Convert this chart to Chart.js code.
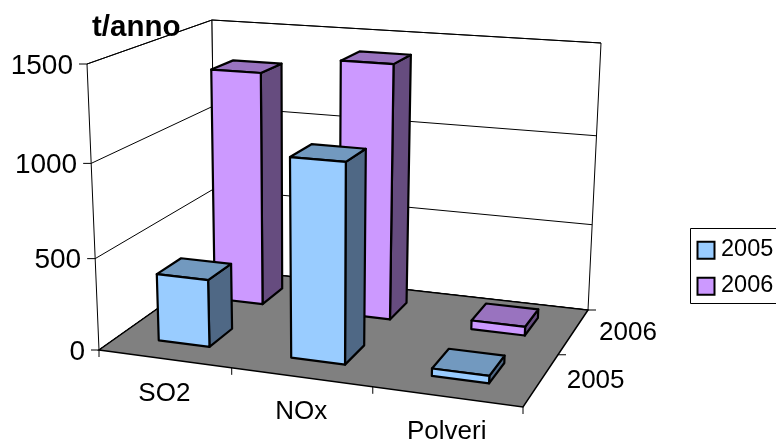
<!DOCTYPE html>
<html>
<head>
<meta charset="utf-8">
<style>
  html, body { margin: 0; padding: 0; background: #fff; overflow: hidden; }
  canvas { display: block; }
</style>
<script src="https://cdn.jsdelivr.net/npm/chart.js@4/dist/chart.umd.min.js"></script>
</head>
<body>
<canvas id="grafico" width="776" height="442"></canvas>
<script>
const categorie = ['SO2', 'NOx', 'Polveri']
const anni = ['2005', '2006']
const valori2005 = [370, 1060, 40]
const valori2006 = [1320, 1415, 50]
const titolo = 't/anno'

const FONT = '"Liberation Sans", Arial, sans-serif'

// Angoli del box 3D: pavimento e piano a quota massima (fl, fr, br, bl)
const pavimento = [[99, 350], [523, 407], [588, 310], [215, 268]]
const soffitto = [[87, 64], [535, 96], [601, 43], [212, 20]]
const profonditaBarra = 0.10

function omografia(q) {
  const [[x0, y0], [x1, y1], [x2, y2], [x3, y3]] = q
  const dx1 = x1 - x2, dx2 = x3 - x2, sx = x0 - x1 + x2 - x3
  const dy1 = y1 - y2, dy2 = y3 - y2, sy = y0 - y1 + y2 - y3
  const den = dx1 * dy2 - dx2 * dy1
  const g = (sx * dy2 - dx2 * sy) / den
  const h = (dx1 * sy - sx * dy1) / den
  const a = x1 - x0 + g * x1, b = x3 - x0 + h * x3
  const d = y1 - y0 + g * y1, e = y3 - y0 + h * y3
  return (u, v) => {
    const w = g * u + h * v + 1
    return [(a * u + b * v + x0) / w, (d * u + e * v + y0) / w]
  }
}

const basso = omografia(pavimento)
const alto = omografia(soffitto)

// u = categoria, d = profondita, q = quota: tutti tra 0 e 1
function proietta(u, d, q) {
  const s = q / (q + (1 - q) * 1.065)
  const a = basso(u, d), b = alto(u, d)
  return [a[0] + (b[0] - a[0]) * s, a[1] + (b[1] - a[1]) * s]
}

function poligono(c, punti, fill) {
  c.beginPath()
  punti.forEach((p, i) => i ? c.lineTo(p[0], p[1]) : c.moveTo(p[0], p[1]))
  c.closePath()
  if (fill) { c.fillStyle = fill; c.fill() }
  c.stroke()
}

function linea(c, a, b, dx, dy) {
  c.beginPath()
  c.moveTo(a[0], a[1])
  c.lineTo(b ? b[0] : a[0] + dx, b ? b[1] : a[1] + dy)
  c.stroke()
}

function testo(c, s, x, y, size, align, bold) {
  c.font = (bold ? 'bold ' : '') + size + 'px ' + FONT
  c.textAlign = align
  c.textBaseline = 'middle'
  c.fillStyle = '#000'
  c.fillText(s, x, y)
}

function disegnaBox(chart) {
  const c = chart.ctx
  const yScale = chart.scales.y
  const xScale = chart.scales.x
  const quota = v => (yScale.bottom - yScale.getPixelForValue(v)) / yScale.height

  c.strokeStyle = '#000'
  c.lineWidth = 1
  poligono(c, [proietta(0, 0, 0), proietta(0, 1, 0), proietta(0, 1, 1), proietta(0, 0, 1)], '#fff')
  poligono(c, [proietta(0, 1, 0), proietta(1, 1, 0), proietta(1, 1, 1), proietta(0, 1, 1)], '#fff')

  yScale.ticks.forEach(t => {
    const q = quota(t.value)
    const a = proietta(0, 0, q)
    linea(c, a, proietta(0, 1, q))
    linea(c, proietta(0, 1, q), proietta(1, 1, q))
    linea(c, a, null, -8, 0)
    testo(c, String(t.value), a[0] - 14, a[1] + 2, 28, 'right')
  })

  c.lineWidth = 1.5
  poligono(c, [proietta(0, 0, 0), proietta(1, 0, 0), proietta(1, 1, 0), proietta(0, 1, 0)], '#808080')

  // Tacche e etichette sul bordo anteriore del pavimento
  c.lineWidth = 1
  linea(c, proietta(0, 0, 0), null, 0, 7)
  xScale.ticks.forEach((t, i) => {
    const u = (i + 1) / categorie.length
    linea(c, proietta(u, 0, 0), null, 0, 7)
    const p = proietta((i + 0.5) / categorie.length, 0, 0)
    testo(c, categorie[i], p[0], p[1] + 35, 26, 'center')
  })
  anni.forEach((a, i) => {
    linea(c, proietta(1, (i + 1) / anni.length, 0), null, 8, 0)
    const p = proietta(1, (i + 0.5) / anni.length, 0)
    testo(c, a, p[0] + 25.5, p[1] + 1, 26, 'left')
  })
}

function disegnaBarre(chart) {
  const c = chart.ctx
  const yScale = chart.scales.y
  const area = chart.chartArea
  c.strokeStyle = '#000'
  c.lineWidth = 2.2
  c.lineJoin = 'round'

  // Prima la serie piu lontana, poi quella vicina
  for (let i = chart.data.datasets.length - 1; i >= 0; i--) {
    const ds = chart.data.datasets[i]
    const centro = (i + 0.5) / chart.data.datasets.length + (i ? 0 : 0.01)
    const d0 = centro - profonditaBarra, d1 = centro + profonditaBarra
    chart.getDatasetMeta(i).data.forEach((bar, j) => {
      const u0 = (bar.x - bar.width / 2 - area.left) / area.width
      const u1 = (bar.x + bar.width / 2 - area.left) / area.width
      const q = (yScale.bottom - yScale.getPixelForValue(ds.data[j])) / yScale.height
      poligono(c, [proietta(u1, d0, 0), proietta(u1, d1, 0), proietta(u1, d1, q), proietta(u1, d0, q)], ds.coloreLato)
      poligono(c, [proietta(u0, d0, q), proietta(u1, d0, q), proietta(u1, d1, q), proietta(u0, d1, q)], ds.coloreTop)
      poligono(c, [proietta(u0, d0, 0), proietta(u1, d0, 0), proietta(u1, d0, q), proietta(u0, d0, q)], ds.backgroundColor)
    })
  }
}

const box3d = {
  id: 'box3d',
  afterLayout(chart) {
    // La legenda sta attaccata al bordo destro della finestra
    const leg = chart.legend
    const w = leg.right - leg.left
    leg.left = 685
    leg.right = 685 + w
  },
  beforeDatasetsDraw(chart) {
    disegnaBox(chart)
    disegnaBarre(chart)
    return false
  },
  afterDraw(chart) {
    const c = chart.ctx
    const leg = chart.legend
    const h = leg.legendHitBoxes
    c.strokeStyle = '#000'
    c.lineWidth = 1
    c.strokeRect(690.5, Math.round(h[0].top - 10.5) + 0.5, 90, 75)
    leg.legendItems.forEach((item, i) => {
      testo(c, item.text, 721, h[i].top + h[i].height / 2 - 0.5, 23.5, 'left')
    })
    testo(c, titolo, 92, 28, 29.5, 'left', true)
  }
}

new Chart(document.getElementById('grafico'), {
  type: 'bar',
  data: {
    labels: categorie,
    datasets: [
      { label: anni[0], data: valori2005, backgroundColor: '#99CCFF', coloreTop: '#7299BF', coloreLato: '#4F6885', borderColor: '#000', borderWidth: 2 },
      { label: anni[1], data: valori2006, backgroundColor: '#CC99FF', coloreTop: '#9973BF', coloreLato: '#664C7F', borderColor: '#000', borderWidth: 2 }
    ]
  },
  options: {
    responsive: false,
    animation: false,
    layout: { padding: { top: 226 } },
    datasets: { bar: { grouped: false, barPercentage: 0.39, categoryPercentage: 1 } },
    scales: {
      x: { display: false },
      y: { display: false, min: 0, max: 1500, ticks: { stepSize: 500 } }
    },
    plugins: {
      tooltip: { enabled: false },
      legend: {
        position: 'right',
        align: 'start',
        labels: { boxWidth: 17, boxHeight: 17, padding: 12.5, color: 'rgba(0,0,0,0)', font: { family: FONT, size: 23.5 } }
      }
    }
  },
  plugins: [box3d]
})
</script>
</body>
</html>
